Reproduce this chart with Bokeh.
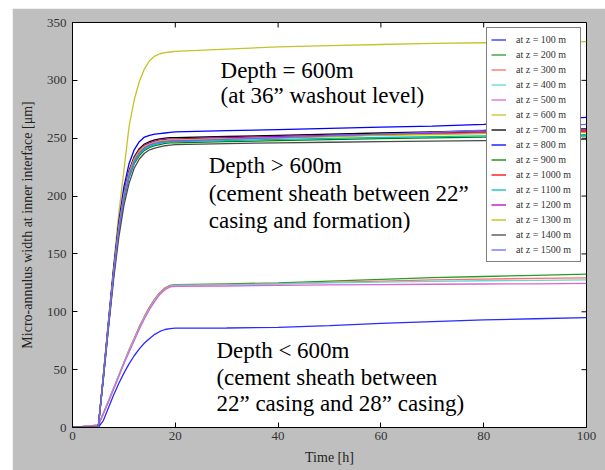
from bokeh.plotting import figure
from bokeh.models import Label, Legend, LegendItem, FixedTicker
from bokeh.embed import file_html
from bokeh.resources import INLINE

# ---------------- data ----------------
T = [0, 5, 6, 7, 8, 9, 10, 11, 12, 13, 14, 15, 16, 17, 18, 19, 20, 30, 40, 50, 60, 70, 80, 90, 100]

z100 = [0, 0, 6, 17, 28, 38, 47, 55, 62, 68, 73, 77, 80.5, 83, 84.7, 85.5, 85.8, 86, 86.5, 88, 90, 91.5, 93, 94, 95]
z200 = [0, 2, 12, 23, 34, 45, 56, 67, 77, 87, 96, 104, 111, 116.5, 120.5, 122.8, 123.5, 124.2, 125, 126.5, 128, 129.5, 130.5, 131.5, 132.5]
z300 = [0, 2, 12, 23, 34, 45, 56, 67, 77, 87, 96, 104, 111, 116.5, 120.5, 122.5, 123, 123.5, 124.3, 125.5, 126.5, 127.5, 128.3, 128.8, 129.3]
z400 = [0, 2, 12, 23, 34, 45, 56, 66, 76, 86, 95, 103, 110, 115.5, 119.5, 122, 122.8, 123.3, 124, 125, 125.7, 126.3, 126.8, 127.2, 127.5]
z500 = [0, 2, 12, 22, 33, 44, 55, 65, 75, 85, 94, 102, 109, 115, 119, 121.5, 122, 122.3, 122.8, 123.2, 123.5, 123.8, 124, 124.2, 124.5]
z600 = [0, 0, 45, 92, 140, 185, 222, 260, 283, 299, 310, 317, 321, 323, 324, 324.5, 325, 327, 329, 330, 331, 332, 332.5, 333, 333.5]
z700 = [0, 0, 44, 90, 135, 174, 203, 222, 234, 241, 245, 247, 248.5, 249.5, 250, 250.5, 250.5, 251.5, 252.5, 253.5, 254.5, 255.5, 256.5, 257.5, 258]
z800 = [0, 0, 45, 92, 138, 178, 208, 228, 240, 247, 251, 252.5, 253.5, 254, 254.5, 255, 255.5, 256.5, 257.5, 258.5, 259.5, 260.5, 262, 265.5, 268]
z900 = [0, 0, 42, 87, 131, 169, 197, 216, 228, 235, 239.5, 242, 243.5, 244.5, 245.5, 246, 246, 247, 248, 248.8, 249.6, 250.3, 251, 251.5, 252]
z1000 = [0, 0, 43, 89, 133, 172, 200, 219, 231, 238, 242, 244.5, 246, 247, 247.5, 248, 248, 249.2, 250.4, 251.6, 252.8, 253.8, 254.6, 255.4, 256]
z1100 = [0, 0, 43, 88, 132, 170, 198, 217, 229, 236, 240.5, 243, 244.5, 245.5, 246.5, 247, 247, 248, 249, 249.8, 250.6, 251.3, 252, 252.5, 253]
z1200 = [0, 0, 44, 90, 135, 174, 202, 221, 233, 240, 244, 246, 247.5, 248.5, 249, 249.5, 249.5, 250.5, 251.5, 252.5, 253.5, 254.5, 255.5, 256.3, 257]
z1300 = [0, 0, 44, 89, 134, 173, 201, 220, 232, 239, 243, 245, 246.5, 247.5, 248, 248.5, 248.5, 249.5, 250.5, 251.5, 252.5, 253.2, 254, 254.5, 255]
z1400 = [0, 0, 42, 86, 128, 164, 192, 211, 224, 232, 237, 240, 241.5, 242.5, 243.5, 244, 244.5, 245.3, 246, 246.5, 247, 247.5, 248, 248.5, 249]
z1500 = [0, 0, 43, 88, 133, 171, 199, 218, 230, 237, 241.5, 244, 245.5, 246.5, 247, 247.5, 247.5, 249, 250.5, 252, 253.5, 255, 257, 259.5, 262]

series_labels = ["at z = 100 m", "at z = 200 m", "at z = 300 m", "at z = 400 m", "at z = 500 m",
                 "at z = 600 m", "at z = 700 m", "at z = 800 m", "at z = 900 m", "at z = 1000 m",
                 "at z = 1100 m", "at z = 1200 m", "at z = 1300 m", "at z = 1400 m", "at z = 1500 m"]
series_values = [z100, z200, z300, z400, z500, z600, z700, z800, z900, z1000,
                 z1100, z1200, z1300, z1400, z1500]
series_colors = ["#2a2aff", "#2a9a2a", "#ff6a6a", "#66d6d6", "#d966d9",
                 "#c4c42a", "#000000", "#0000ff", "#008000", "#ff0000",
                 "#00bfbf", "#bf00bf", "#bfbf00", "#4a4a4a", "#6a6aff"]

x_ticks = [0, 20, 40, 60, 80, 100]
y_ticks = [0, 50, 100, 150, 200, 250, 300, 350]

annotations = [
    ("Depth = 600m", 28.8, 308.5),
    ("(at 36\u201d washout level)", 28.8, 286.5),
    ("Depth > 600m", 26.5, 226.5),
    ("(cement sheath between 22\u201d", 26.5, 202.5),
    ("casing and formation)", 26.5, 179.0),
    ("Depth < 600m", 28.0, 66.5),
    ("(cement sheath between", 28.0, 43.5),
    ("22\u201d casing and 28\u201d casing)", 28.0, 20.5),
]

SERIF = "Liberation Serif"
X_MIN, X_MAX, Y_MIN, Y_MAX = 0, 100, 0, 350
FRAME_W, FRAME_H = 514, 405
TICK_PX = 5

p = figure(width=593, height=462, output_backend="svg", toolbar_location=None,
           x_range=(X_MIN, X_MAX), y_range=(Y_MIN, Y_MAX),
           frame_width=FRAME_W, frame_height=FRAME_H,
           min_border_left=60, min_border_right=19, min_border_top=14, min_border_bottom=43,
           margin=(8, 0, 0, 12))
p.border_fill_color = "#bfbfbf"
p.background_fill_color = "white"
p.outline_line_color = "black"
p.outline_line_width = 1
p.xgrid.visible = False
p.ygrid.visible = False

items = []
for lab, vals, col in zip(series_labels, series_values, series_colors):
    r = p.line(T, vals, line_color=col, line_width=1.3)
    items.append(LegendItem(label=lab, renderers=[r]))

legend = Legend(items=items, location="top_right", margin=5, padding=4, spacing=0,
                glyph_width=15, glyph_height=15, label_height=15, label_width=60,
                label_standoff=10, label_text_font=SERIF, label_text_font_size="10px",
                label_text_color="#333333", border_line_color="black", border_line_width=1,
                background_fill_color="white", background_fill_alpha=1.0)
p.add_layout(legend)

def style_axis(ax, ticks):
    ax.ticker = FixedTicker(ticks=ticks)
    ax.major_tick_in = TICK_PX
    ax.major_tick_out = 0
    ax.minor_tick_in = 0
    ax.minor_tick_out = 0
    ax.axis_line_color = "black"
    ax.major_tick_line_color = "black"
    ax.major_label_text_font = SERIF
    ax.major_label_text_color = "#333333"
    ax.major_label_text_font_size = "13px"

style_axis(p.xaxis[0], x_ticks)
style_axis(p.yaxis[0], y_ticks)
p.xaxis[0].major_label_standoff = 4
p.yaxis[0].major_label_standoff = 6

p.xaxis[0].axis_label = "Time [h]"
p.yaxis[0].axis_label = "Micro-annulus width at inner interface [\u03bcm]"
for ax in (p.xaxis[0], p.yaxis[0]):
    ax.axis_label_text_font = SERIF
    ax.axis_label_text_font_size = "14px"
    ax.axis_label_text_font_style = "normal"
    ax.axis_label_text_color = "#222222"
p.xaxis[0].axis_label_standoff = 7
p.yaxis[0].axis_label_standoff = 9

# inward ticks on the top and right frame edges (mirroring the tick lists)
dx = TICK_PX * (X_MAX - X_MIN) / FRAME_W
dy = TICK_PX * (Y_MAX - Y_MIN) / FRAME_H
p.segment(x0=x_ticks, y0=[Y_MAX] * len(x_ticks), x1=x_ticks, y1=[Y_MAX - dy] * len(x_ticks),
          line_color="black", line_width=1)
p.segment(x0=[X_MAX] * len(y_ticks), y0=y_ticks, x1=[X_MAX - dx] * len(y_ticks), y1=y_ticks,
          line_color="black", line_width=1)

for txt, xx, yy in annotations:
    p.add_layout(Label(x=xx, y=yy, text=txt, text_font=SERIF, text_font_size="23px",
                       text_color="black", text_baseline="alphabetic", text_align="left"))

open("out.html", "w").write(file_html(p, INLINE))
